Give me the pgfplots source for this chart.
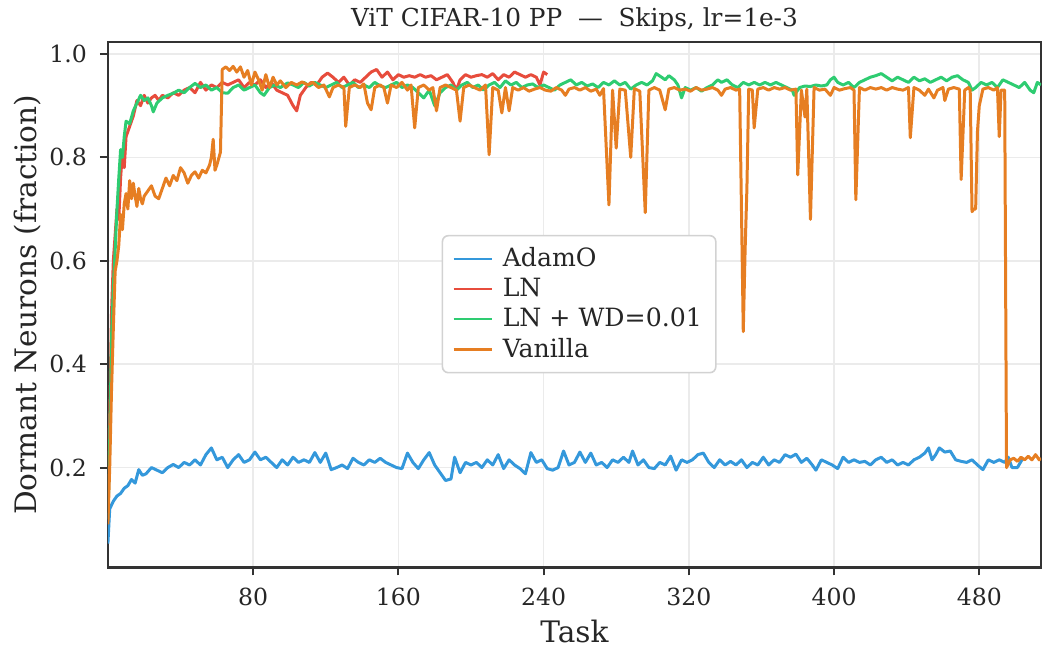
\documentclass[border=0pt]{standalone}
\usepackage{pgfplots}
\pgfplotsset{compat=1.18}
\usepackage{fontspec}
\setmainfont{DejaVu Serif}
\definecolor{cBlue}{HTML}{3498DB}
\definecolor{cRed}{HTML}{E74C3C}
\definecolor{cGreen}{HTML}{2ECC71}
\definecolor{cOrange}{HTML}{E67E22}
\definecolor{cText}{HTML}{262626}
\definecolor{cFrame}{HTML}{333333}
\definecolor{cGrid}{HTML}{EBEBEB}
\begin{document}
\begin{tikzpicture}
\begin{axis}[
  scale only axis,
  width=467pt, height=263pt,
  xmin=0, xmax=514, ymin=0.0068, ymax=1.0232,
  xtick={80,160,240,320,400,480},
  ytick={0.2,0.4,0.6,0.8,1.0},
  /pgf/number format/assume math mode=true,
  tick label style={font=\fontsize{11.8}{14}\selectfont, text=cText},
  xticklabel style={yshift=-2.5pt},
  yticklabel style={xshift=-3pt, /pgf/number format/.cd, fixed, fixed zerofill, precision=1},
  tick align=outside, tick pos=left,
  major tick length=4pt,
  every tick/.style={line width=1pt, cFrame},
  axis line style={line width=1.2pt, cFrame},
  grid=major,
  major grid style={line width=0.8pt, cGrid},
  xlabel={Task}, ylabel={Dormant Neurons (fraction)},
  every axis x label/.style={at={(axis description cs:0.5,-0.1217)}, anchor=center, font=\fontsize{14.8}{17}\selectfont, text=cText},
  every axis y label/.style={at={(axis description cs:-0.0857,0.5)}, anchor=center, rotate=90, font=\fontsize{14.8}{17}\selectfont, text=cText},
  title={ViT CIFAR-10 PP\ \ —\ \ Skips, lr=1e-3},
  every axis title shift=0pt,
  every axis title/.style={at={(axis description cs:0.5,1.0418)}, anchor=center, font=\fontsize{12.4}{14}\selectfont, text=cText},
  legend style={at={(axis description cs:0.505,0.501)}, anchor=center, draw=gray!35, line width=0.8pt, rounded corners=3pt, fill=white, font=\fontsize{12.6}{14}\selectfont, text=cText, inner xsep=5pt, inner ysep=4pt, row sep=0.3pt, /tikz/every odd column/.append style={column sep=3pt}},
  legend cell align=left,
  legend image code/.code={\draw[#1, line width=1.2pt] (0pt,0pt) -- (19pt,0pt);},
  every axis plot/.append style={line width=1.5pt, line join=round},
]
\addplot[cBlue] coordinates {(0,0.053)(1,0.12)(3,0.135)(5,0.145)(7,0.15)(9,0.16)(11,0.165)(13,0.177)(15,0.17)(17,0.196)(19,0.185)(21,0.188)(24,0.2)(27,0.195)(30,0.19)(33,0.2)(36,0.206)(39,0.2)(42,0.21)(45,0.205)(48,0.215)(51,0.205)(54,0.225)(57,0.238)(60,0.215)(63,0.22)(66,0.2)(69,0.215)(72,0.225)(75,0.21)(78,0.215)(81,0.23)(84,0.215)(87,0.22)(90,0.21)(93,0.2)(96,0.215)(99,0.205)(102,0.22)(105,0.21)(108,0.215)(111,0.21)(114,0.229)(117,0.21)(120,0.228)(123,0.196)(126,0.2)(129,0.205)(132,0.198)(135,0.218)(138,0.21)(141,0.205)(144,0.215)(147,0.21)(150,0.218)(153,0.21)(156,0.205)(159,0.2)(162,0.198)(165,0.228)(168,0.21)(171,0.198)(174,0.215)(177,0.229)(180,0.205)(183,0.19)(186,0.175)(189,0.178)(191,0.22)(194,0.19)(197,0.21)(200,0.205)(203,0.21)(206,0.2)(209,0.215)(212,0.205)(215,0.225)(218,0.198)(221,0.215)(224,0.205)(227,0.198)(230,0.188)(233,0.229)(236,0.21)(239,0.215)(242,0.198)(245,0.195)(248,0.2)(251,0.232)(254,0.205)(257,0.21)(260,0.23)(263,0.21)(266,0.228)(269,0.205)(272,0.21)(275,0.2)(278,0.215)(281,0.21)(284,0.22)(287,0.21)(289,0.232)(292,0.205)(295,0.215)(298,0.2)(301,0.198)(304,0.21)(307,0.205)(310,0.222)(313,0.195)(316,0.215)(319,0.21)(322,0.215)(325,0.225)(328,0.228)(331,0.21)(334,0.2)(337,0.215)(340,0.205)(343,0.212)(346,0.205)(349,0.215)(352,0.2)(355,0.21)(358,0.205)(361,0.22)(364,0.205)(367,0.215)(370,0.21)(373,0.225)(376,0.22)(379,0.226)(382,0.21)(385,0.218)(388,0.205)(390,0.195)(393,0.215)(396,0.21)(399,0.205)(402,0.198)(405,0.22)(408,0.21)(411,0.215)(414,0.21)(417,0.212)(420,0.205)(423,0.215)(426,0.22)(429,0.21)(432,0.215)(435,0.205)(438,0.21)(441,0.205)(444,0.215)(447,0.22)(450,0.228)(452,0.238)(454,0.215)(456,0.225)(458,0.238)(461,0.23)(464,0.232)(467,0.215)(470,0.212)(473,0.21)(476,0.215)(479,0.205)(482,0.196)(485,0.215)(488,0.21)(491,0.215)(494,0.21)(496,0.22)(498,0.2)(501,0.2)(504,0.218)};
\addlegendentry{AdamO}
\addplot[cRed] coordinates {(0,0.1)(1,0.3)(2,0.5)(3,0.6)(4,0.65)(5,0.7)(6,0.68)(7,0.76)(8,0.81)(9,0.78)(10,0.84)(12,0.86)(14,0.88)(16,0.91)(18,0.9)(20,0.92)(22,0.905)(24,0.915)(26,0.92)(28,0.91)(30,0.92)(33,0.915)(36,0.925)(39,0.92)(42,0.93)(45,0.935)(48,0.925)(51,0.945)(54,0.93)(57,0.94)(60,0.935)(63,0.945)(66,0.94)(69,0.945)(72,0.95)(75,0.935)(78,0.945)(81,0.94)(84,0.95)(87,0.935)(90,0.945)(93,0.93)(96,0.925)(99,0.92)(102,0.9)(104,0.89)(106,0.92)(109,0.935)(112,0.945)(115,0.94)(118,0.955)(121,0.963)(124,0.955)(127,0.945)(130,0.955)(133,0.94)(136,0.95)(139,0.945)(142,0.955)(145,0.965)(148,0.97)(151,0.955)(154,0.965)(157,0.95)(160,0.96)(163,0.955)(166,0.958)(169,0.955)(172,0.96)(175,0.955)(178,0.958)(181,0.95)(184,0.955)(187,0.96)(190,0.945)(192,0.93)(194,0.95)(197,0.96)(200,0.955)(203,0.958)(206,0.96)(209,0.955)(212,0.962)(215,0.95)(218,0.96)(221,0.955)(224,0.965)(227,0.96)(230,0.955)(233,0.96)(236,0.955)(238,0.94)(240,0.965)(242,0.96)};
\addlegendentry{LN}
\addplot[cGreen] coordinates {(0,0.1)(1,0.25)(2,0.45)(3,0.55)(4,0.62)(5,0.7)(6,0.76)(7,0.815)(8,0.8)(9,0.84)(10,0.87)(12,0.865)(14,0.89)(16,0.905)(18,0.92)(20,0.91)(22,0.915)(24,0.9)(25,0.888)(27,0.905)(30,0.915)(33,0.92)(36,0.924)(39,0.93)(42,0.925)(45,0.935)(48,0.943)(51,0.935)(54,0.94)(57,0.93)(60,0.935)(63,0.925)(66,0.924)(69,0.935)(72,0.94)(75,0.93)(78,0.935)(81,0.94)(84,0.925)(86,0.92)(89,0.935)(92,0.94)(95,0.935)(99,0.944)(102,0.94)(105,0.935)(108,0.945)(111,0.938)(114,0.945)(117,0.94)(120,0.935)(123,0.94)(126,0.945)(129,0.935)(132,0.94)(135,0.945)(138,0.935)(141,0.94)(144,0.935)(147,0.945)(150,0.938)(153,0.935)(156,0.94)(159,0.945)(162,0.935)(165,0.94)(168,0.935)(171,0.925)(174,0.915)(177,0.93)(180,0.9)(183,0.925)(186,0.935)(189,0.94)(192,0.93)(195,0.94)(198,0.945)(201,0.935)(204,0.94)(207,0.93)(210,0.94)(213,0.945)(216,0.935)(219,0.948)(222,0.94)(225,0.945)(228,0.935)(231,0.94)(234,0.942)(237,0.935)(240,0.94)(243,0.935)(246,0.93)(249,0.94)(252,0.945)(255,0.95)(258,0.94)(261,0.945)(264,0.938)(267,0.942)(270,0.935)(273,0.945)(276,0.94)(279,0.948)(282,0.94)(285,0.945)(288,0.932)(291,0.94)(294,0.945)(297,0.94)(300,0.948)(302,0.962)(305,0.955)(307,0.95)(309,0.958)(312,0.95)(314,0.94)(316,0.915)(318,0.935)(321,0.93)(324,0.935)(327,0.928)(330,0.935)(333,0.94)(336,0.95)(338,0.945)(341,0.95)(344,0.94)(347,0.935)(350,0.945)(353,0.94)(356,0.945)(359,0.94)(362,0.945)(365,0.94)(368,0.945)(371,0.94)(374,0.935)(377,0.93)(378,0.92)(381,0.935)(384,0.938)(387,0.937)(390,0.94)(393,0.938)(396,0.94)(398,0.95)(400,0.955)(402,0.945)(405,0.94)(408,0.945)(411,0.935)(414,0.945)(417,0.95)(420,0.955)(423,0.958)(426,0.962)(429,0.955)(432,0.948)(435,0.955)(438,0.95)(441,0.945)(444,0.955)(447,0.948)(450,0.952)(453,0.945)(456,0.95)(459,0.955)(462,0.948)(465,0.955)(468,0.958)(471,0.95)(474,0.945)(476,0.93)(478,0.935)(481,0.945)(484,0.94)(487,0.945)(490,0.935)(493,0.95)(496,0.945)(499,0.94)(502,0.935)(505,0.945)(508,0.93)(510,0.925)(512,0.945)(514,0.94)};
\addlegendentry{LN + WD=0.01}
\addplot[cOrange] coordinates {(0,0.09)(1,0.2)(2,0.35)(3,0.47)(4,0.58)(5,0.6)(6,0.63)(7,0.69)(8,0.66)(9,0.71)(10,0.73)(11,0.7)(12,0.755)(13,0.72)(14,0.75)(15,0.725)(16,0.705)(17,0.74)(18,0.72)(19,0.71)(20,0.725)(22,0.735)(24,0.745)(26,0.725)(28,0.72)(30,0.74)(32,0.76)(34,0.745)(36,0.765)(38,0.755)(40,0.78)(42,0.77)(44,0.75)(46,0.765)(48,0.772)(50,0.76)(52,0.775)(54,0.77)(56,0.785)(57,0.8)(58,0.835)(59,0.775)(60,0.785)(62,0.81)(63,0.97)(65,0.975)(67,0.968)(69,0.976)(71,0.965)(73,0.975)(75,0.955)(77,0.968)(79,0.94)(81,0.965)(83,0.95)(85,0.93)(87,0.96)(89,0.935)(91,0.955)(93,0.94)(95,0.948)(98,0.935)(101,0.945)(104,0.94)(107,0.946)(110,0.94)(113,0.945)(116,0.935)(119,0.94)(122,0.917)(124,0.935)(127,0.94)(130,0.935)(131,0.86)(133,0.935)(136,0.94)(139,0.935)(141,0.942)(143,0.905)(145,0.892)(147,0.935)(150,0.94)(152,0.935)(154,0.905)(156,0.94)(159,0.935)(162,0.945)(165,0.93)(167,0.94)(169,0.857)(171,0.935)(174,0.94)(177,0.93)(179,0.935)(181,0.89)(183,0.935)(186,0.94)(189,0.935)(192,0.93)(194,0.87)(196,0.935)(199,0.94)(202,0.935)(205,0.93)(208,0.94)(210,0.805)(212,0.935)(215,0.93)(217,0.886)(219,0.935)(221,0.89)(223,0.935)(226,0.93)(229,0.935)(232,0.928)(235,0.932)(238,0.935)(241,0.93)(244,0.928)(247,0.935)(250,0.93)(252,0.92)(254,0.932)(257,0.935)(260,0.93)(263,0.935)(266,0.928)(269,0.932)(271,0.92)(273,0.933)(276,0.708)(278,0.93)(280,0.818)(282,0.932)(285,0.93)(288,0.80)(290,0.933)(293,0.928)(296,0.693)(298,0.93)(301,0.935)(304,0.93)(307,0.892)(309,0.932)(312,0.935)(315,0.93)(318,0.932)(321,0.928)(324,0.935)(327,0.93)(330,0.932)(333,0.935)(336,0.93)(338,0.92)(340,0.932)(343,0.935)(346,0.93)(348,0.932)(349,0.70)(350,0.463)(351,0.62)(352,0.74)(353,0.932)(355,0.93)(356,0.857)(358,0.932)(361,0.935)(364,0.93)(367,0.935)(370,0.932)(373,0.935)(376,0.93)(379,0.932)(380,0.766)(382,0.93)(384,0.878)(385,0.932)(387,0.68)(389,0.935)(392,0.93)(395,0.932)(398,0.92)(400,0.935)(403,0.93)(406,0.933)(409,0.935)(411,0.93)(412,0.718)(414,0.935)(417,0.93)(420,0.935)(423,0.932)(426,0.935)(429,0.93)(432,0.935)(435,0.932)(438,0.93)(441,0.935)(442,0.838)(444,0.935)(447,0.93)(450,0.92)(452,0.932)(455,0.915)(457,0.93)(460,0.935)(461,0.91)(463,0.932)(466,0.935)(469,0.932)(470,0.757)(472,0.93)(474,0.935)(475,0.93)(476,0.695)(477,0.70)(478,0.70)(479,0.85)(480,0.9)(482,0.932)(485,0.935)(488,0.93)(490,0.935)(491,0.84)(492,0.93)(494,0.93)(495,0.2)(497,0.215)(499,0.218)(501,0.212)(503,0.22)(505,0.215)(507,0.222)(509,0.215)(511,0.225)(513,0.215)(514,0.218)};
\addlegendentry{Vanilla}
\end{axis}
\pgfresetboundingbox
\path[use as bounding box] ([xshift=-54pt,yshift=-40.5pt]current axis.south west) rectangle ([xshift=0.5pt,yshift=21pt]current axis.north east);
\end{tikzpicture}
\end{document}
